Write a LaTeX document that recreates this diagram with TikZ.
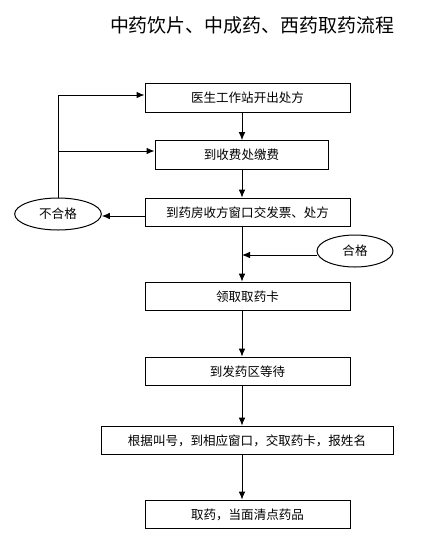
\documentclass[tikz,border=0pt]{standalone}
\usepackage{fontspec}
\setmainfont{Noto Sans CJK SC}
\usetikzlibrary{arrows.meta,shapes.geometric}
\begin{document}
\begin{tikzpicture}[x=0.75pt,y=-0.75pt,
  box/.style={draw,line width=0.75pt,rectangle,minimum height=21.5pt,inner sep=0pt,font=\fontsize{9.4}{11}\selectfont},
  oval/.style={draw,line width=0.75pt,ellipse,inner sep=0pt,font=\fontsize{9.4}{11}\selectfont},
  arr/.style={line width=0.75pt,-{Latex[length=6pt,width=5pt]}}]
\useasboundingbox (0,0) rectangle (424,540);
\node (title) at (252,25) {\fontsize{14.2}{16}\selectfont 中药饮片、中成药、西药取药流程};
\node[box,minimum width=153.75pt] (b1) at (247.5,98) {医生工作站开出处方};
\node[box,minimum width=129.75pt] (b2) at (241.5,155) {到收费处缴费};
\node[box,minimum width=153.75pt] (b3) at (247.5,212.5) {到药房收方窗口交发票、处方};
\node[box,minimum width=153.75pt] (b4) at (247.5,296.5) {领取取药卡};
\node[box,minimum width=153.75pt] (b5) at (247.5,371.5) {到发药区等待};
\node[box,minimum width=219pt] (b6) at (247,440.5) {根据叫号，到相应窗口，交取药卡，报姓名};
\node[box,minimum width=153.75pt] (b7) at (247.5,514.5) {取药，当面清点药品};
\node[oval,minimum width=65pt,minimum height=24pt] (bad) at (58,214) {不合格};
\node[oval,minimum width=57pt,minimum height=24pt] (ok) at (355,251) {合格};
\coordinate (mx) at (242,0);
\coordinate (l1) at (58,95);
\coordinate (l2) at (58,151);
\coordinate (j) at (242,255);
\draw[arr] (b1.south -| mx) -- (b2.north -| mx);
\draw[arr] (b2.south -| mx) -- (b3.north -| mx);
\draw[arr] (b3.south -| mx) -- (b4.north -| mx);
\draw[arr] (b4.south -| mx) -- (b5.north -| mx);
\draw[arr] (b5.south -| mx) -- (b6.north -| mx);
\draw[arr] (b6.south -| mx) -- (b7.north -| mx);
\draw[arr] (b3.west |- 0,216) -- (bad.east |- 0,216);
\draw[line width=0.75pt] (bad.north) -- (l1);
\draw[arr] (l1) -- (l1 -| b1.west);
\draw[arr] (l2) -- (l2 -| b2.west);
\draw[arr] (ok.west |- j) -- (j);
\end{tikzpicture}
\end{document}
